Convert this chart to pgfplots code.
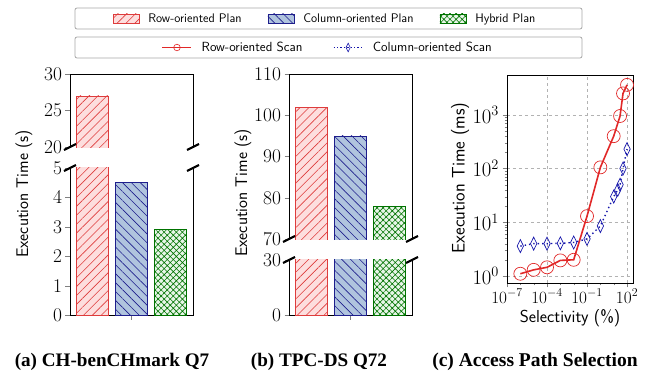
\documentclass[border=0pt]{standalone}
\usepackage{fontspec}
\usepackage{pgfplots}
\pgfplotsset{compat=1.18}
\usetikzlibrary{patterns.meta}
\newfontfamily\capfont{Liberation Serif}

\definecolor{redline}{RGB}{222,60,60}
\definecolor{redfill}{RGB}{253,222,222}
\definecolor{blueline}{RGB}{30,30,140}
\definecolor{bluefill}{RGB}{176,196,222}
\definecolor{greenline}{RGB}{0,115,0}
\definecolor{greenfill}{RGB}{232,246,232}
\definecolor{plotred}{RGB}{225,40,40}
\definecolor{plotblue}{RGB}{20,20,170}

\tikzset{
  redbar/.style={fill=redfill, draw=redline, line width=0.7bp,
    postaction={pattern={Lines[angle=45,distance=6.3bp,line width=0.6bp]}, pattern color=redline}},
  bluebar/.style={fill=bluefill, draw=blueline, line width=0.7bp,
    postaction={pattern={Lines[angle=-45,distance=6.3bp,line width=0.6bp]}, pattern color=blueline}},
  greenbar/.style={fill=greenfill, draw=greenline, line width=0.7bp,
    postaction={pattern={Hatch[angle=45,distance=4.3bp,line width=0.6bp]}, pattern color=greenline}},
}

\pgfplotsset{
  barax/.style={scale only axis, width=123bp, height=241bp, xmin=-0.57, xmax=2.57,
    tick align=outside, major tick length=4.5bp,
    tick label style={font=\fontsize{19.5}{19.5}\selectfont},
    axis line style={line width=0.8bp},
    xtick={1}, xticklabels={}, tick pos=left},
}

\newcommand{\bars}[3]{%
  \addplot[ybar, bar shift=0pt, bar width=0.81, redbar] coordinates {(0,#1)};
  \addplot[ybar, bar shift=0pt, bar width=0.81, bluebar] coordinates {(1,#2)};
  \addplot[ybar, bar shift=0pt, bar width=0.81, greenbar] coordinates {(2,#3)};
}

\begin{document}
\begin{tikzpicture}
\useasboundingbox (0,0) rectangle (651bp,-372bp);

% ---------- legends ----------
\draw[gray!70, line width=0.8bp, rounded corners=2bp] (75bp,-8bp) rectangle (582bp,-29bp);
\draw[gray!70, line width=0.8bp, rounded corners=2bp] (75bp,-37bp) rectangle (582bp,-58bp);

\begin{axis}[at={(75bp,-29bp)}, anchor=south west, scale only axis, width=507bp, height=21bp,
  hide axis, xmin=0, xmax=1, ymin=0, ymax=1,
  legend style={at={(0.5,0.5)}, anchor=center, draw=none, fill=none, legend columns=3,
    font=\sffamily\fontsize{12.5}{13}\selectfont, nodes={inner xsep=9bp},
    /tikz/every even column/.append style={column sep=17bp}},
  legend image code/.code={\draw[#1] (0bp,-4.5bp) rectangle (26bp,4.5bp);}]
\addlegendimage{redbar}
\addlegendentry{Row-oriented Plan}
\addlegendimage{bluebar}
\addlegendentry{Column-oriented Plan}
\addlegendimage{greenbar}
\addlegendentry{Hybrid Plan}
\end{axis}

\begin{axis}[at={(78bp,-58bp)}, anchor=south west, scale only axis, width=507bp, height=21bp,
  hide axis, xmin=0, xmax=1, ymin=0, ymax=1,
  legend style={at={(0.5,0.5)}, anchor=center, draw=none, fill=none, legend columns=2,
    font=\sffamily\fontsize{13.3}{14}\selectfont, nodes={inner xsep=9.5bp},
    /tikz/every even column/.append style={column sep=21bp}},
  legend image code/.code={\draw[mark repeat=2, mark phase=2, #1] plot coordinates {(0bp,0bp) (14.5bp,0bp) (29bp,0bp)};}]
\addlegendimage{plotred, line width=1.4bp, mark=o, mark size=3.3bp, mark options={solid, line width=0.6bp}}
\addlegendentry{Row-oriented Scan}
\addlegendimage{plotblue, line width=1.2bp, dash pattern=on 1.2bp off 2.2bp, mark=diamond, mark size=4.3bp, mark options={solid, line width=0.6bp, xscale=0.65}}
\addlegendentry{Column-oriented Scan}
\end{axis}

% ---------- (a) CH-benCHmark Q7 : broken y axis (0-5 | 20-30) ----------
\begin{axis}[barax, at={(70bp,-315bp)}, anchor=south west,
  ymin=0, ymax=241,
  y filter/.expression={(y<=10)*y*29.4 + (y>10)*(168+(y-20)*7.3)},
  ytick={0,29.4,58.8,88.2,117.6,147,168,204.5,241},
  yticklabels={0,1,2,3,4,5,20,25,30}]
\bars{27}{4.5}{2.9}
\end{axis}
\fill[white] (66bp,-147.6bp) rectangle (198bp,-167.4bp);
\foreach \x in {70,193}{
  \draw[line width=2.2bp] (\x bp-6bp,-150bp) -- (\x bp+6bp,-144bp);
  \draw[line width=2.2bp] (\x bp-6bp,-171bp) -- (\x bp+6bp,-165bp);
}
\node[rotate=90, font=\sffamily\fontsize{16.9}{17}\selectfont] at (24bp,-194bp) {Execution Time (s)};

% ---------- (b) TPC-DS Q72 : broken y axis (0-30 | 70-110) ----------
\begin{axis}[barax, at={(289bp,-315bp)}, anchor=south west,
  ymin=0, ymax=241,
  y filter/.expression={(y<=50)*y*1.83333 + (y>50)*(76+(y-70)*4.125)},
  ytick={0,55,76,117.25,158.5,199.75,241},
  yticklabels={0,30,70,80,90,100,110}]
\bars{102}{95}{78}
\end{axis}
\fill[white] (285bp,-239.6bp) rectangle (417bp,-259.4bp);
\foreach \x in {289,412}{
  \draw[line width=2.2bp] (\x bp-6bp,-242bp) -- (\x bp+6bp,-236bp);
  \draw[line width=2.2bp] (\x bp-6bp,-263bp) -- (\x bp+6bp,-257bp);
}
\node[rotate=90, font=\sffamily\fontsize{16.9}{17}\selectfont] at (243bp,-193bp) {Execution Time (s)};

% ---------- (c) Access Path Selection ----------
\begin{axis}[at={(507bp,-283bp)}, anchor=south west, scale only axis, width=126bp, height=208bp,
  xmode=log, ymode=log, xmin=1e-7, xmax=280, ymin=0.74, ymax=5500,
  xtick={1e-7,1e-4,1e-1,1e2}, ytick={1,10,100,1000},
  minor xtick={1e-6,1e-5,1e-3,1e-2,1,10},
  tick align=outside, tick pos=left, major tick length=4.5bp, minor tick length=2.5bp,
  xticklabel style={font=\fontsize{17}{17}\selectfont, inner sep=1.5bp},
  yticklabel style={font=\fontsize{20.5}{20.5}\selectfont},
  axis line style={line width=0.8bp},
  grid=major, major grid style={gray!60, dashed, line width=0.5bp}]
\addplot[plotblue, line width=1.4bp, dash pattern=on 1.4bp off 3bp, mark=diamond, mark size=6.5bp,
  mark options={solid, line width=0.7bp, xscale=0.65}]
  coordinates {(1e-6,3.6) (1e-5,4.0) (1e-4,4.0) (1e-3,4.05) (1e-2,4.2) (1e-1,4.9) (1,8.5) (10,30) (20,40) (30,50) (50,100) (100,230)};
\addplot[plotred, line width=1.6bp, mark=o, mark size=6.5bp,
  mark options={solid, line width=0.7bp}]
  coordinates {(1e-6,1.1) (1e-5,1.3) (1e-4,1.45) (1e-3,1.95) (1e-2,2.0) (1e-1,13) (1,105) (10,400) (30,950) (50,2500) (100,3600)};
\end{axis}
\node[rotate=90, font=\sffamily\fontsize{18.2}{18}\selectfont] at (460bp,-178bp) {Execution Time (ms)};
\node[font=\sffamily\fontsize{17.4}{18}\selectfont] at (570bp,-318bp) {Selectivity (\%)};

% ---------- captions ----------
\node[anchor=base, font=\capfont\bfseries\fontsize{19.2}{20}\selectfont] at (112bp,-366bp) {(a) CH-benCHmark Q7};
\node[anchor=base, font=\capfont\bfseries\fontsize{19.2}{20}\selectfont] at (319bp,-366bp) {(b) TPC-DS Q72};
\node[anchor=base, font=\capfont\bfseries\fontsize{19.6}{20}\selectfont] at (535bp,-366bp) {(c) Access Path Selection};
\end{tikzpicture}
\end{document}
